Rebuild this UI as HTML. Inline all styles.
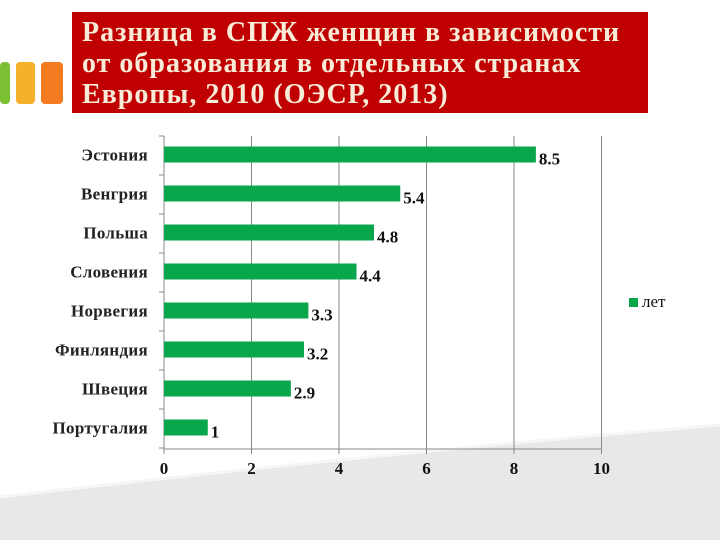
<!DOCTYPE html>
<html><head><meta charset="utf-8"><style>
body{margin:0;width:720px;height:540px;overflow:hidden;background:#fff;font-family:"Liberation Serif",serif;position:relative}
.t{position:absolute;left:72px;top:12px;width:576px;height:101px;background:#c00000;color:#f8ecd8;font-size:28px;line-height:31px;font-weight:bold;padding:5px 0 0 10px;box-sizing:border-box;white-space:nowrap;letter-spacing:1px}
.sq{position:absolute;top:62px;height:42px;border-radius:4px}
</style></head><body>
<svg width="720" height="540" style="position:absolute;left:0;top:0">
<path d="M0,497 Q360,455 720,425 L720,540 L0,540Z" fill="#e8e8e8"/>
<path d="M0,497 Q360,455 720,425" stroke="#f6f6f6" stroke-width="3" fill="none"/>
</svg>
<div class="sq" style="left:0;width:10px;background:#7cc033"></div>
<div class="sq" style="left:16px;width:19px;background:#f6b02a"></div>
<div class="sq" style="left:41px;width:22px;background:#f47b20"></div>
<div class="t">Разница в СПЖ женщин в зависимости<br>от образования в отдельных странах<br>Европы, 2010 (ОЭСР, 2013)</div>
<svg id="c" width="720" height="540" style="position:absolute;left:0;top:0"></svg>
<script>
const categories=["Эстония","Венгрия","Польша","Словения","Норвегия","Финляндия","Швеция","Португалия"];
const values=[8.5,5.4,4.8,4.4,3.3,3.2,2.9,1];
const ticks=[0,2,4,6,8,10];
const svg=document.getElementById('c');const NS='http://www.w3.org/2000/svg';
const x0=164,xs=43.75,top0=136,band=39,base=449;
const X=v=>x0+v*xs, Y=i=>top0+band*i+band/2-1;
function mk(t,a){const e=document.createElementNS(NS,t);for(const k in a)e.setAttribute(k,a[k]);svg.appendChild(e);return e;}
ticks.forEach(t=>{
 const g=mk('line',{x1:X(t),x2:X(t),y1:top0,y2:base+5,stroke:'#888','stroke-width':1});
 
 
 const l=mk('text',{x:X(t),y:474,'text-anchor':'middle','font-size':17,'font-weight':'bold',fill:'#111'});l.textContent=t;
 
 
});
const ax=mk('line',{x1:x0,x2:X(10),y1:base,y2:base,stroke:'#888'});


for(let i=0;i<=categories.length;i++){const tk=mk('line',{x1:x0-5,x2:x0,y1:top0+band*i,y2:top0+band*i,stroke:'#888'});
 
 }
categories.forEach((c,i)=>{
 const r=mk('rect',{x:x0,y:Y(i)-8,width:X(values[i])-x0,height:16,fill:'#0aa64c'});
 
 
 const v=mk('text',{x:X(values[i])+3,y:Y(i)+10,'font-size':17,'font-weight':'bold',fill:'#111'});v.textContent=values[i];
 
 
 const l=mk('text',{x:148,y:Y(i)+6,'text-anchor':'end','font-size':17,'font-weight':'bold','letter-spacing':'0.3',fill:'#222'});l.textContent=c;
 
 
});
const lg=mk('rect',{x:629,y:298,width:9,height:9,fill:'#0aa64c'});


const lt=mk('text',{x:642,y:307,'font-size':17,fill:'#111'});lt.textContent='лет';


</script>
</body></html>
